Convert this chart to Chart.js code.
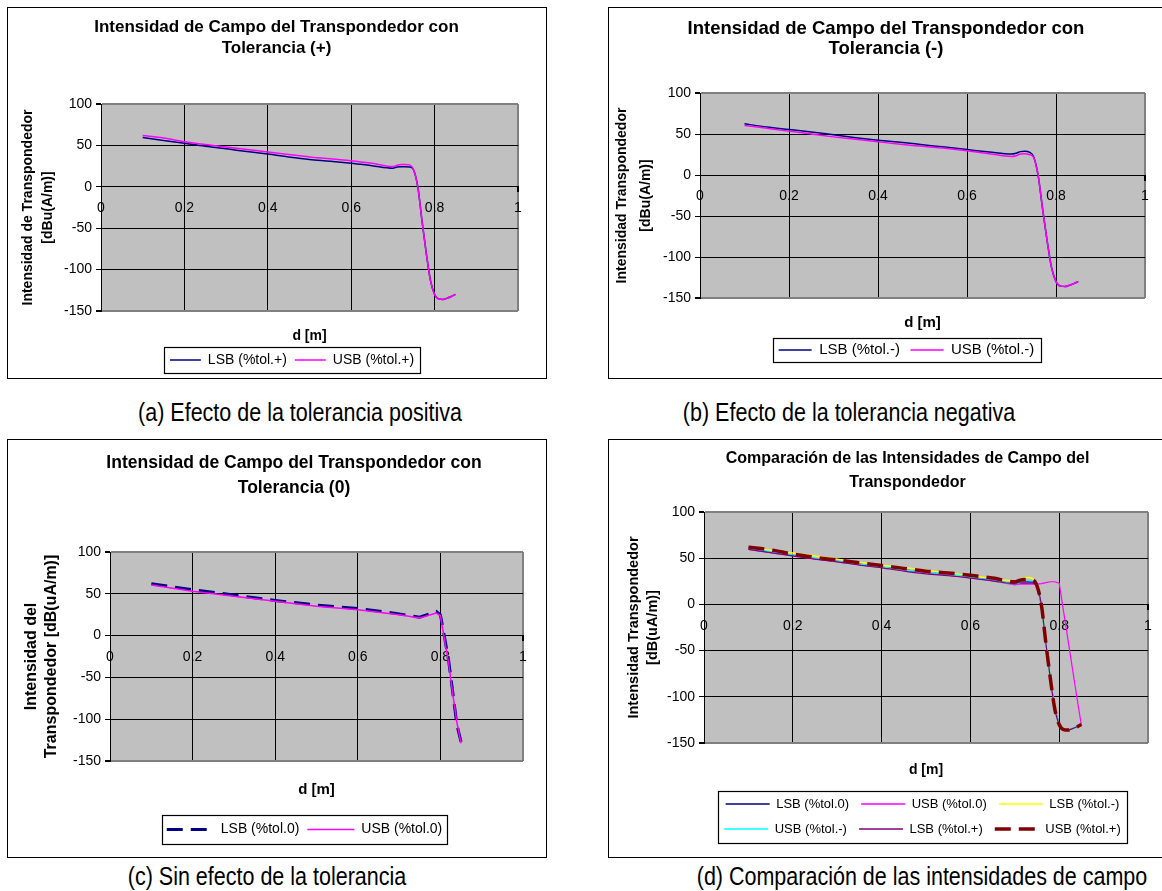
<!DOCTYPE html>
<html><head><meta charset="utf-8">
<script src="https://cdn.jsdelivr.net/npm/chart.js@4.4.1/dist/chart.umd.min.js"></script>
<style>
html,body{margin:0;padding:0;background:#fff;overflow:hidden;width:1162px;height:891px;position:relative;}
.box{position:absolute;border:1.5px solid #000;background:#fff;box-sizing:border-box;}
canvas{position:absolute;}
.cap{position:absolute;font-family:"Liberation Sans",Arial,sans-serif;font-size:25px;color:#000;white-space:nowrap;transform:translate(-50%,-50%) scaleX(0.86);}
</style></head><body>
<div class="box" style="left:7px;top:7px;width:540px;height:372px"></div>
<div class="box" style="left:608px;top:7px;width:600px;height:372px"></div>
<div class="box" style="left:7px;top:439px;width:540px;height:419px"></div>
<div class="box" style="left:608px;top:439px;width:600px;height:419px"></div>
<canvas id="ca" width="539" height="371" style="left:7px;top:7px"></canvas>
<canvas id="cb" width="556" height="371" style="left:608px;top:7px"></canvas>
<canvas id="cc" width="574" height="418" style="left:7px;top:440px"></canvas>
<canvas id="cd" width="599" height="418" style="left:608px;top:440px"></canvas>
<div class="cap" style="left:300px;top:412px">(a) Efecto de la tolerancia positiva</div>
<div class="cap" style="left:849px;top:412px">(b) Efecto de la tolerancia negativa</div>
<div class="cap" style="left:267px;top:876px">(c) Sin efecto de la tolerancia</div>
<div class="cap" style="left:922px;top:876px">(d) Comparación de las intensidades de campo</div>
<script>
// ---- data ----
const xsAB = [0.1,0.15,0.2,0.25,0.3,0.35,0.4,0.45,0.5,0.55,0.6,0.65,0.7,0.71,0.72,0.73,0.74,0.75,0.76,0.77,0.78,0.79,0.8,0.81,0.82,0.83,0.84,0.85];
const lsbPlus  = [59.5,56,52.5,49,46,42.5,39.5,36,33,31,28.5,25.5,22.5,24,24.3,24.3,24,20,-1,-42,-80,-113,-130,-135.5,-136,-134.5,-132.5,-130];
const usbPlus  = [62,59,54.5,51,48,45,42,39,36,34,31.5,28.5,24.5,26,27,27,26.5,20,-1,-42,-80,-113,-130,-135.5,-136,-134.5,-132.5,-130];
const lsbMinus = [62.5,58.5,55.5,52.5,49,45.5,42.5,40,37,34,31,28,25.5,26.5,28.5,29,28,22,-1,-42,-80,-113,-130,-135.5,-136,-134.5,-132.5,-130];
const usbMinus = [60.5,57,53.5,50,46.5,43.5,40.5,37.5,35,32.5,29.5,26,22.5,23.5,25.5,26,25,21,-1,-42,-80,-113,-130,-135.5,-136,-134.5,-132.5,-130];
const xsC      = [0.1,0.2,0.3,0.4,0.5,0.6,0.7,0.75,0.79,0.8,0.81,0.82,0.83,0.84,0.85];
const lsbZeroC = [62,55,48.5,42,36.5,32.5,26,22,29,25,-2,-30,-68,-107,-127];
const usbZeroC = [60.5,53,47,41,35,31,25,21,27,24,-5,-33,-70,-104,-129];
const lsbZeroD = [60,56.5,53,49.5,46.5,43.5,40.5,37.5,35,32,29.5,26,22,23,23,23,23,21,-1,-42,-80,-113,-130,-135.5,-136,-134.5,-132.5,-130];
const usbZeroD = [59.5,56,52.5,49,46,43,40,37,34.5,31.5,29,25.5,21,22,22,22,22,22,22.5,23.5,24.5,24.5,23,-8,-39,-70,-101,-131];
const xTicks = [0,0.2,0.4,0.6,0.8,1];
const xTickLabels = ['0','0.2','0.4','0.6','0.8','1'];
const yTicks = [-150,-100,-50,0,50,100];
const yTickLabels = ['-150','-100','-50','0','50','100'];

Chart.defaults.font.family = "'Liberation Sans', Arial, sans-serif";
Chart.defaults.color = '#000';

function pts(xs, ys){ return xs.map((x,i)=>({x:x, y:ys[i]})); }
function ds(label, xs, ys, color, width, dash, smooth){
  return {label:label, data:pts(xs,ys), borderColor:color, backgroundColor:color, borderWidth:width,
    borderDash:dash||[], pointRadius:0, pointHoverRadius:0, fill:false,
    tension: smooth?0.4:0, cubicInterpolationMode: smooth?'monotone':'default'};
}

function makeChart(id, P){
  const n = P.datasets.length;
  P.datasets.forEach((d,i)=>{ d.order = n - i; });
  const plotBg = {id:'plotBg', beforeDraw(c){ const a=c.chartArea, ctx=c.ctx; ctx.save(); ctx.fillStyle='#C0C0C0'; ctx.fillRect(a.left,a.top,a.right-a.left,a.bottom-a.top); ctx.restore(); }};
  const legShift = {id:'legShift', afterLayout(c){ c.legend.left += P.leg.dx; c.legend.right += P.leg.dx; }};
  const legBox = {id:'legBox', afterDraw(c){
    const hb = c.legend.legendHitBoxes; if(!hb||!hb.length) return;
    let x0=1e9,y0=1e9,x1=-1e9,y1=-1e9;
    hb.forEach(h=>{ x0=Math.min(x0,h.left); y0=Math.min(y0,h.top); x1=Math.max(x1,h.left+h.width); y1=Math.max(y1,h.top+h.height); });
    const ctx=c.ctx; ctx.save(); ctx.strokeStyle='#000'; ctx.lineWidth=1.2;
    ctx.strokeRect(Math.round(x0-P.leg.mx)+0.5, Math.round(y0-P.leg.my)+0.5, Math.round(x1-x0+2*P.leg.mx), Math.round(y1-y0+2*P.leg.my));
    ctx.restore(); }};
  const edgeY = v => v===100 || v===-150;
  return new Chart(document.getElementById(id), {
    type:'line',
    data:{datasets:P.datasets},
    plugins:[plotBg, legShift, legBox],
    options:{
      responsive:false, animation:false, devicePixelRatio:1,
      events:[],
      layout:{padding:{left:0,top:0,right:0,bottom:P.B}},
      plugins:{
        title:{display:true, text:P.title.text, color:'#000',
          font:{size:P.title.size, weight:'bold', lineHeight:P.title.lh+'px'},
          padding:{top:P.title.pt, bottom:P.title.pb}},
        legend:{display:true, position:'bottom', fullSize:false,
          labels:{usePointStyle:true, pointStyle:'line', pointStyleWidth:P.leg.lw, color:'#000',
            font:{size:P.leg.size}, padding:P.leg.pad,
            generateLabels:(chart)=>Chart.defaults.plugins.legend.labels.generateLabels(chart).map(l=>{
              const d = chart.data.datasets[l.datasetIndex];
              l.lineDash = d.borderDash || []; l.lineWidth = Math.max(d.borderWidth, 1.6); l.strokeStyle = d.borderColor; l.fillStyle = d.borderColor;
              return l; }),
            sort:(a,b)=>a.datasetIndex-b.datasetIndex}},
        tooltip:{enabled:false}
      },
      scales:{
        x:{type:'linear', min:0, max:1, position:{y:0},
          afterBuildTicks:s=>{ s.ticks = xTicks.map(v=>({value:v})); },
          ticks:{autoSkip:false, maxRotation:0, padding:8, color:'#000', font:{size:P.tick},
            callback:(v,i)=>xTickLabels[i]},
          grid:{color:c=>(c.tick && c.tick.value===1)?'#808080':'#000', lineWidth:c=>(c.tick && c.tick.value===1)?2:1,
            tickColor:'#000', tickLength:5, drawTicks:true},
          border:{display:true, color:'#000', width:1}},
        x2:{type:'linear', min:0, max:1, position:'bottom', display:true,
          afterFit:s=>{ s.height = P.x2.H; },
          ticks:{display:false}, grid:{display:false, drawTicks:false}, border:{display:false},
          title:{display:true, text:'d [m]', color:'#000', font:{size:P.x2.size, weight:'bold', lineHeight:P.x2.lh+'px'}, padding:{top:0,bottom:P.x2.pb}}},
        y:{type:'linear', min:-150, max:100, position:'left',
          afterFit:s=>{ s.width = P.yW; },
          afterBuildTicks:s=>{ s.ticks = yTicks.map(v=>({value:v})); },
          ticks:{autoSkip:false, padding:4, color:'#000', font:{size:P.tick},
            callback:(v,i)=>yTickLabels[i]},
          grid:{color:c=>(c.tick && edgeY(c.tick.value))?'#808080':'#000', lineWidth:c=>(c.tick && edgeY(c.tick.value))?2:1,
            tickColor:'#000', tickLength:5, drawTicks:true},
          border:{display:true, color:'#000', width:1},
          title:{display:true, text:P.ytitle.text, color:'#000', font:{size:P.ytitle.size, weight:'bold', lineHeight:P.ytitle.lh+'px'}, padding:{top:P.ytitle.pt,bottom:0}}},
        yR:{type:'linear', position:'right', display:true,
          afterFit:s=>{ s.width = P.R; },
          ticks:{display:false}, grid:{display:false, drawTicks:false}, border:{display:false}}
      }
    }
  });
}

const titlePos = ['Intensidad de Campo del Transpondedor con','Tolerancia (+)'];
const titleNeg = ['Intensidad de Campo del Transpondedor con','Tolerancia (-)'];
const titleZero = ['Intensidad de Campo del Transpondedor con','Tolerancia (0)'];
const titleCmp = ['Comparación de las Intensidades de Campo del','Transpondedor'];

makeChart('ca', {yW:94, R:28, B:1,
  title:{text:titlePos, size:17, lh:21, pt:9.5, pb:45.5},
  ytitle:{text:['Intensidad de Transpondedor','[dBu(A/m)]'], size:14, lh:20, pt:11},
  tick:14, x2:{size:14, lh:16.8, pb:0, H:34},
  leg:{size:14, pad:8, lw:31, dx:-17.5, mx:6, my:6},
  datasets:[ds('LSB (%tol.+)', xsAB, lsbPlus, '#000080', 1.5, null, true),
            ds('USB (%tol.+)', xsAB, usbPlus, '#FF00FF', 1.5, null, true)]});

makeChart('cb', {yW:92, R:19, B:10.5,
  title:{text:titleNeg, size:18.5, lh:20, pt:12, pb:34},
  ytitle:{text:['Intensidad Transpondedor','[dBu(A/m)]'], size:14, lh:24, pt:2.6},
  tick:14, x2:{size:15, lh:18, pb:0, H:34},
  leg:{size:15, pad:10.5, lw:33, dx:-16, mx:6, my:4.5},
  datasets:[ds('LSB (%tol.-)', xsAB, lsbMinus, '#000080', 1.5, null, true),
            ds('USB (%tol.-)', xsAB, usbMinus, '#FF00FF', 1.5, null, true)]});

makeChart('cc', {yW:103, R:58, B:11.5,
  title:{text:titleZero, size:17.5, lh:25, pt:10.5, pb:51.5},
  ytitle:{text:['Intensidad del','Transpondedor [dB(uA/m)]'], size:16, lh:20.5, pt:14.25},
  tick:14, x2:{size:15, lh:18, pb:15.5, H:53.5},
  leg:{size:14, pad:8, lw:47, dx:-12, mx:5, my:7.5},
  datasets:[ds('LSB (%tol.0)', xsC, lsbZeroC, '#000080', 3, [16,8], false),
            ds('USB (%tol.0)', xsC, usbZeroC, '#FF00FF', 1.5, null, false)]});

makeChart('cd', {yW:96, R:59, B:12.5,
  title:{text:titleCmp, size:16, lh:24, pt:7, pb:17},
  ytitle:{text:['Intensidad Transpondedor','[dB(uA/m)]'], size:14.5, lh:18.5, pt:16.75},
  tick:14, x2:{size:14, lh:16.8, pb:7.1, H:42.5},
  leg:{size:13, pad:12, lw:44, dx:-3.5, mx:6, my:7},
  datasets:[ds('LSB (%tol.0)', xsAB, lsbZeroD, '#000080', 1.2, null, false),
            ds('USB (%tol.0)', xsAB, usbZeroD, '#FF00FF', 1.2, null, false),
            ds('LSB (%tol.-)', xsAB, lsbMinus, '#FFFF00', 1.5, null, true),
            ds('USB (%tol.-)', xsAB, usbMinus, '#00FFFF', 1.5, null, true),
            ds('LSB (%tol.+)', xsAB, lsbPlus, '#800080', 1.2, null, true),
            ds('USB (%tol.+)', xsAB, usbPlus, '#800000', 3.5, [16,8], true)]});
</script>
</body></html>
